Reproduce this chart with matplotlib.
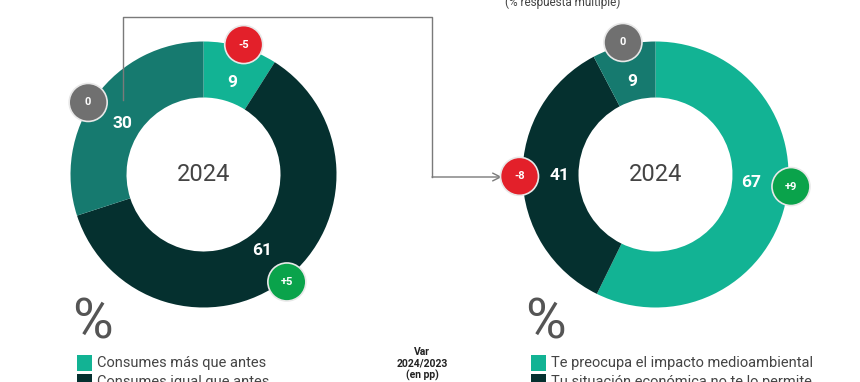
import numpy as np
import matplotlib.pyplot as plt
from matplotlib.patches import Circle, Rectangle

plt.rcParams['font.family'] = ['Roboto', 'DejaVu Sans']

W, H = 860, 382  # lienzo en píxeles

# DATOS
anio = '2024'
izq_valores = [9, 61, 30]
izq_var = ['-5', '+5', '0']
izq_leyenda = ['Consumes más que antes', 'Consumes igual que antes']
der_valores = [67, 41, 9]          # respuesta múltiple (suma 117)
der_var = ['+9', '-8', '0']
der_leyenda = ['Te preocupa el impacto medioambiental',
               'Tu situación económica no te lo permite']
nota_top = '(% respuesta múltiple)'
nota_var = 'Var\n2024/2023\n(en pp)'

# colores
c_claro, c_oscuro, c_medio = '#12b394', '#05302f', '#167a6f'
c_var = {'-': '#e3202a', '+': '#0aa34b', '0': '#707070'}

fig = plt.figure(figsize=(W / 100, H / 100), dpi=100)
ax = fig.add_axes([0, 0, 1, 1])


def y(v):  # coordenada de imagen -> datos
    return H - v


def dona(cx, cy, valores, variaciones, colores, ajuste):
    wedges, _ = ax.pie(valores, colors=colores, startangle=90, counterclock=False,
                       radius=133, center=(cx, y(cy)), frame=True,
                       wedgeprops=dict(width=56, linewidth=0))
    for w, val, var, adj in zip(wedges, valores, variaciones, ajuste):
        ang = np.deg2rad((w.theta1 + w.theta2) / 2 + adj)
        # valor dentro del anillo
        ax.text(cx + 96 * np.cos(ang), y(cy) + 96 * np.sin(ang), str(val),
                color='white', fontsize=12.5, fontweight='bold',
                ha='center', va='center', zorder=5)
        # circulito de variación
        bx, by = cx + 136 * np.cos(ang), y(cy) + 136 * np.sin(ang)
        col = c_var[var[0]] if var != '0' else c_var['0']
        ax.add_patch(Circle((bx, by), 19, facecolor=col, edgecolor='#e8e8e8',
                            linewidth=1.2, zorder=6))
        ax.text(bx, by, var, color='white', fontsize=8, fontweight='bold',
                ha='center', va='center', zorder=7)
    ax.text(cx, y(cy), anio, color='#444444', fontsize=17,
            ha='center', va='center', zorder=5)


dona(203.5, 174.5, izq_valores, izq_var, [c_claro, c_oscuro, c_medio], [-1, 0, 4])
dona(655.5, 174.5, der_valores, der_var, [c_claro, c_oscuro, c_medio], [8, 0, 0])

ax.set_xlim(0, W)
ax.set_ylim(0, H)
ax.set_aspect('equal')
ax.axis('off')

# línea conectora con flecha
ax.plot([123, 123, 432, 432], [y(100), y(17), y(17), y(177)],
        color='#7a7a7a', linewidth=1, zorder=1)
ax.annotate('', xy=(502, y(177)), xytext=(432, y(177)),
            arrowprops=dict(arrowstyle='->', color='#7a7a7a', lw=1,
                            mutation_scale=14, shrinkA=0, shrinkB=0))

# nota superior (cortada, como en el original)
ax.text(563, y(2), nota_top, color='#444444', fontsize=8.5,
        ha='center', va='center')

# signos de porcentaje
for xp in (72, 525):
    ax.text(xp, y(323), '%', color='#555555', fontsize=40,
            ha='left', va='center')

# leyendas
cols_ley = [c_claro, c_oscuro]
for x0, textos in ((77, izq_leyenda), (531, der_leyenda)):
    for i, (t, c) in enumerate(zip(textos, cols_ley)):
        yy = 363 + i * 19
        ax.add_patch(Rectangle((x0, y(yy + 8)), 15, 16, facecolor=c, linewidth=0))
        ax.text(x0 + 20, y(yy), t, color='#444444', fontsize=10.5,
                ha='left', va='center')

ax.text(422, y(364), nota_var, color='#222222', fontsize=7.5, fontweight='bold',
        ha='center', va='center', linespacing=1.15)

fig.savefig('out.png', dpi=100)
